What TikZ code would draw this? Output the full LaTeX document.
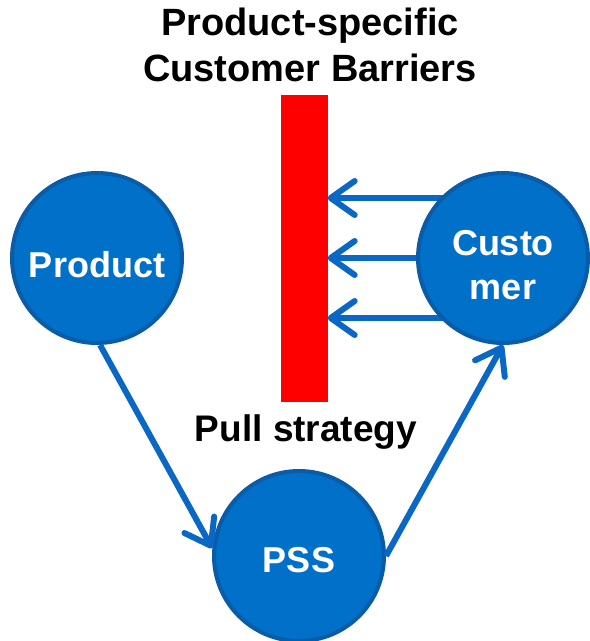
\documentclass[tikz,border=0pt]{standalone}
\usepackage{fontspec}
\setmainfont{Liberation Sans}
\usepackage{xcolor}
\usepackage{tikz}
\usetikzlibrary{arrows.meta,positioning,calc}

\definecolor{psblue}{HTML}{0070C8}
\definecolor{psedge}{HTML}{0A5CA6}
\definecolor{arrblue}{HTML}{0A68C4}

\begin{document}
\begin{tikzpicture}[x=1pt, y=-1pt,
		actor/.style={draw=psedge, line width=4pt, circle, fill=psblue, minimum size=170pt, inner sep=0pt, text=white, align=center, font=\fontsize{36}{44}\selectfont\bfseries},
		flow/.style={draw=arrblue, line width=6pt, -{Straight Barb[length=24pt, width=34pt, round]}},
		label/.style={font=\fontsize{38}{46}\selectfont\bfseries, align=center}]
		\useasboundingbox (0,0) rectangle (590,641);

		% barrier
		\node[fill=red, minimum width=47pt, minimum height=307pt, inner sep=0pt] (bar) at (304,248.5) {};
		\node[label] (title) at (310,45) {Product-specific\\Customer Barriers};
		\node[label, font=\fontsize{37}{44}\selectfont\bfseries] (pull) at (306,432) {Pull strategy};

		% customer pushes back on the barrier
		\coordinate (custc) at (503,258);
		\foreach \dy in {60,0,-60}
			\draw[flow] ([yshift=\dy pt]custc) -- ([yshift=\dy pt]custc -| bar.east);

		\node[actor, text height=38pt, text depth=0pt] (prod) at (97,258) {Product};
		\node[actor, text height=83pt, text depth=0pt] (cust) at (custc) {Custo\\mer};
		\node[actor, text height=32pt, text depth=0pt] (pss) at (299,556) {PSS};

		\draw[flow] (prod.-88) -- (pss.175);
		\draw[flow] (pss.0) -- (cust.-90);
	\end{tikzpicture}
\end{document}
